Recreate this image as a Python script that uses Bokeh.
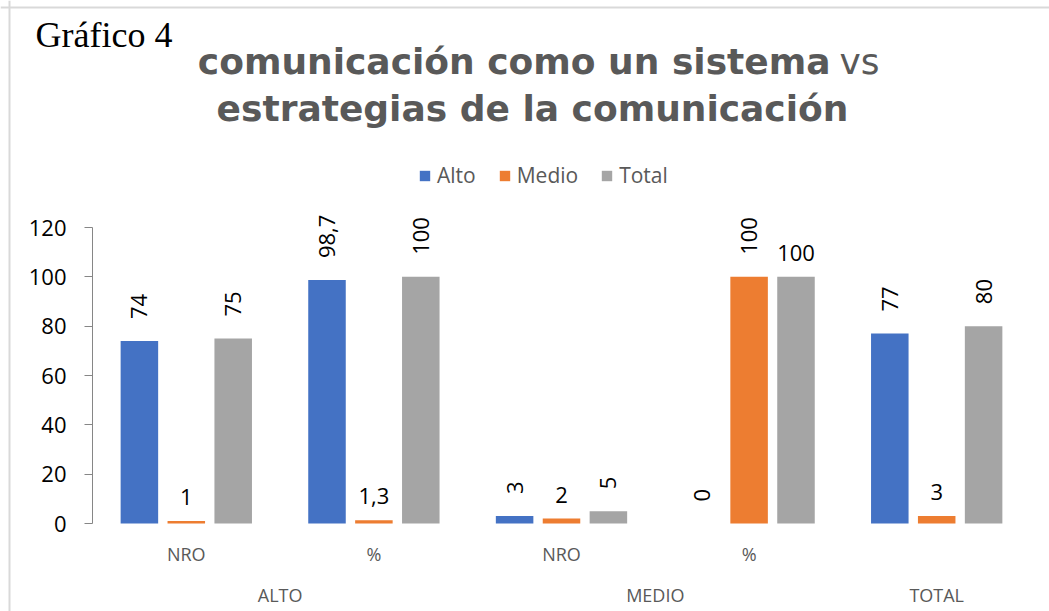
import math
from bokeh.plotting import figure
from bokeh.models import (ColumnDataSource, Range1d, FixedTicker, LinearAxis, Label,
                          LabelSet, Legend, LegendItem, Span)
from bokeh.transform import dodge
from bokeh.core.properties import value
from bokeh.embed import file_html
from bokeh.resources import INLINE

# ---------------- data ----------------
groups = ["ALTO", "ALTO", "MEDIO", "MEDIO", "TOTAL"]
subcats = ["NRO", "%", "NRO", "%", ""]
series_names = ["Alto", "Medio", "Total"]
alto = [74, 98.7, 3, 0, 77]
medio = [1, 1.3, 2, 100, 3]
total = [75, 100, 5, 100, 80]
y_ticks = [0, 20, 40, 60, 80, 100, 120]

# ---------------- styles / layout ----------------
colors = ["#4472C4", "#ED7D31", "#A5A5A5"]
offsets = [-0.25, 0.0, 0.25]
# orientation of each data label as in the original (True = vertical)
vertical = [[True, True, True, True, True],
            [False, False, False, True, False],
            [True, True, True, False, True]]
GREY_TEXT = "#595959"

W, H = 1049, 611           # canvas; the frame fills the whole canvas
AX_X0, AX_X1 = 92, 1030    # canvas x of the category span (0 .. N)
AX_Y0, AX_Y120 = 523, 227  # canvas y of value 0 and value 120
NCAT = len(subcats)
PX_X = (AX_X1 - AX_X0) / NCAT
PX_Y = (AX_Y0 - AX_Y120) / 120.0
X_START, X_END = -AX_X0 / PX_X, (W - AX_X0) / PX_X
Y_START, Y_END = -(H - AX_Y0) / PX_Y, AX_Y0 / PX_Y
BASELINE_FIX = 13          # correction for Label alphabetic baseline placement


def fmt(v):
    return f"{v:g}".replace(".", ",")


def sx(px):          # canvas pixel -> frame screen units
    return px


def sy(py):
    return H - py


def sy_base(py):     # baseline position for alphabetic labels
    return H - (py - BASELINE_FIX)


xs = [i + 0.5 for i in range(NCAT)]

p = figure(width=W, height=H, x_range=Range1d(X_START, X_END),
           y_range=Range1d(Y_START, Y_END), x_axis_type=None,
           output_backend="svg", toolbar_location=None, title=None, min_border=0)
p.outline_line_color = None
p.ygrid.visible = False
p.background_fill_color = "white"
p.border_fill_color = "white"

# chart border (light grey, top and left)
p.add_layout(Span(location=Y_END - 7 / PX_Y, dimension="width",
                  line_color="#D9D9D9", line_width=2))
p.add_layout(Span(location=X_START + 9 / PX_X, dimension="height",
                  line_color="#D9D9D9", line_width=2))

# y axis, drawn at x = 0
ya = p.yaxis[0]
ya.fixed_location = 0
ya.ticker = FixedTicker(ticks=y_ticks)
ya.bounds = (y_ticks[0], y_ticks[-1])
ya.axis_line_color = "#868686"
ya.major_tick_line_color = "#868686"
ya.major_tick_out = 8
ya.major_tick_in = 0
ya.minor_tick_line_color = None
ya.major_label_text_font = "Open Sans"
ya.major_label_text_font_size = "22px"
ya.major_label_text_color = "black"
ya.major_label_standoff = 18

# x axes at y = 0: sub-categories, then groups
sub_axis = LinearAxis(fixed_location=0, ticker=FixedTicker(ticks=xs),
                      major_label_overrides={x: s for x, s in zip(xs, subcats)},
                      axis_line_color=None, major_tick_line_color=None,
                      major_tick_out=0, major_tick_in=0,
                      minor_tick_line_color=None, major_label_standoff=18,
                      major_label_text_font="Open Sans",
                      major_label_text_font_size="18px",
                      major_label_text_color=GREY_TEXT)
p.add_layout(sub_axis, "below")

gnames = []
for g in groups:
    if g not in gnames:
        gnames.append(g)
gpos = [sum(x for x, gg in zip(xs, groups) if gg == g) / groups.count(g) for g in gnames]
grp_axis = LinearAxis(fixed_location=0, ticker=FixedTicker(ticks=gpos),
                      major_label_overrides={x: g for x, g in zip(gpos, gnames)},
                      axis_line_color=None, major_tick_line_color=None,
                      major_tick_out=0, major_tick_in=0,
                      minor_tick_line_color=None, major_label_standoff=59,
                      major_label_text_font="Open Sans",
                      major_label_text_font_size="18px",
                      major_label_text_color=GREY_TEXT)
p.add_layout(grp_axis, "below")

# bars
src = ColumnDataSource(dict(x=xs, Alto=alto, Medio=medio, Total=total))
renderers = []
for name, c, off in zip(series_names, colors, offsets):
    r = p.vbar(x=dodge("x", off, range=p.x_range), top=name, width=0.2,
               source=src, fill_color=c, line_color=None)
    renderers.append(r)

# data labels
vx, vy, vt, hx, hy, ht = [], [], [], [], [], []
for vals, off, flags in zip([alto, medio, total], offsets, vertical):
    for x, v, f in zip(xs, vals, flags):
        if f:
            vx.append(x + off); vy.append(v); vt.append(fmt(v))
        else:
            hx.append(x + off); hy.append(v); ht.append(fmt(v))

vsrc = ColumnDataSource(dict(x=vx, y=vy, text=vt))
hsrc = ColumnDataSource(dict(x=hx, y=hy, text=ht))
p.add_layout(LabelSet(x="x", y="y", text="text", source=vsrc, angle=math.pi / 2,
                      text_align="left", text_baseline="middle", y_offset=22,
                      text_font=value("Open Sans"), text_font_size="22px",
                      text_color="black"))
p.add_layout(LabelSet(x="x", y="y", text="text", source=hsrc,
                      text_align="center", text_baseline="middle", y_offset=24,
                      text_font=value("Open Sans"), text_font_size="22px",
                      text_color="black"))

# legend (location = bottom-left corner in frame screen units)
legend = Legend(items=[LegendItem(label=n, renderers=[r]) for n, r in zip(series_names, renderers)],
                location=(sx(418), sy(189)), orientation="horizontal",
                glyph_width=13, glyph_height=13, label_standoff=6, spacing=22,
                padding=0, margin=0, border_line_color=None,
                background_fill_alpha=0, label_text_font="Open Sans",
                label_text_font_size="21px", label_text_color=GREY_TEXT)
p.add_layout(legend)

# header texts
p.add_layout(Label(x=sx(35), y=sy_base(47), x_units="screen", y_units="screen",
                   text="Gráfico 4", text_font="Liberation Serif",
                   text_font_size="36px", text_color="black",
                   text_align="left", text_baseline="alphabetic"))
p.add_layout(Label(x=sx(830), y=sy_base(74), x_units="screen", y_units="screen",
                   text="comunicación como un sistema",
                   text_font="DejaVu Sans", text_font_style="bold",
                   text_font_size="36px", text_color=GREY_TEXT,
                   text_align="right", text_baseline="alphabetic"))
p.add_layout(Label(x=sx(839), y=sy_base(74), x_units="screen", y_units="screen", text="vs",
                   text_font="DejaVu Sans", text_font_size="36px", text_color=GREY_TEXT,
                   text_align="left", text_baseline="alphabetic"))
p.add_layout(Label(x=sx(532), y=sy_base(121), x_units="screen", y_units="screen",
                   text="estrategias de la comunicación",
                   text_font="DejaVu Sans", text_font_style="bold",
                   text_font_size="36px", text_color=GREY_TEXT,
                   text_align="center", text_baseline="alphabetic"))

open("out.html", "w").write(file_html(p, INLINE))
